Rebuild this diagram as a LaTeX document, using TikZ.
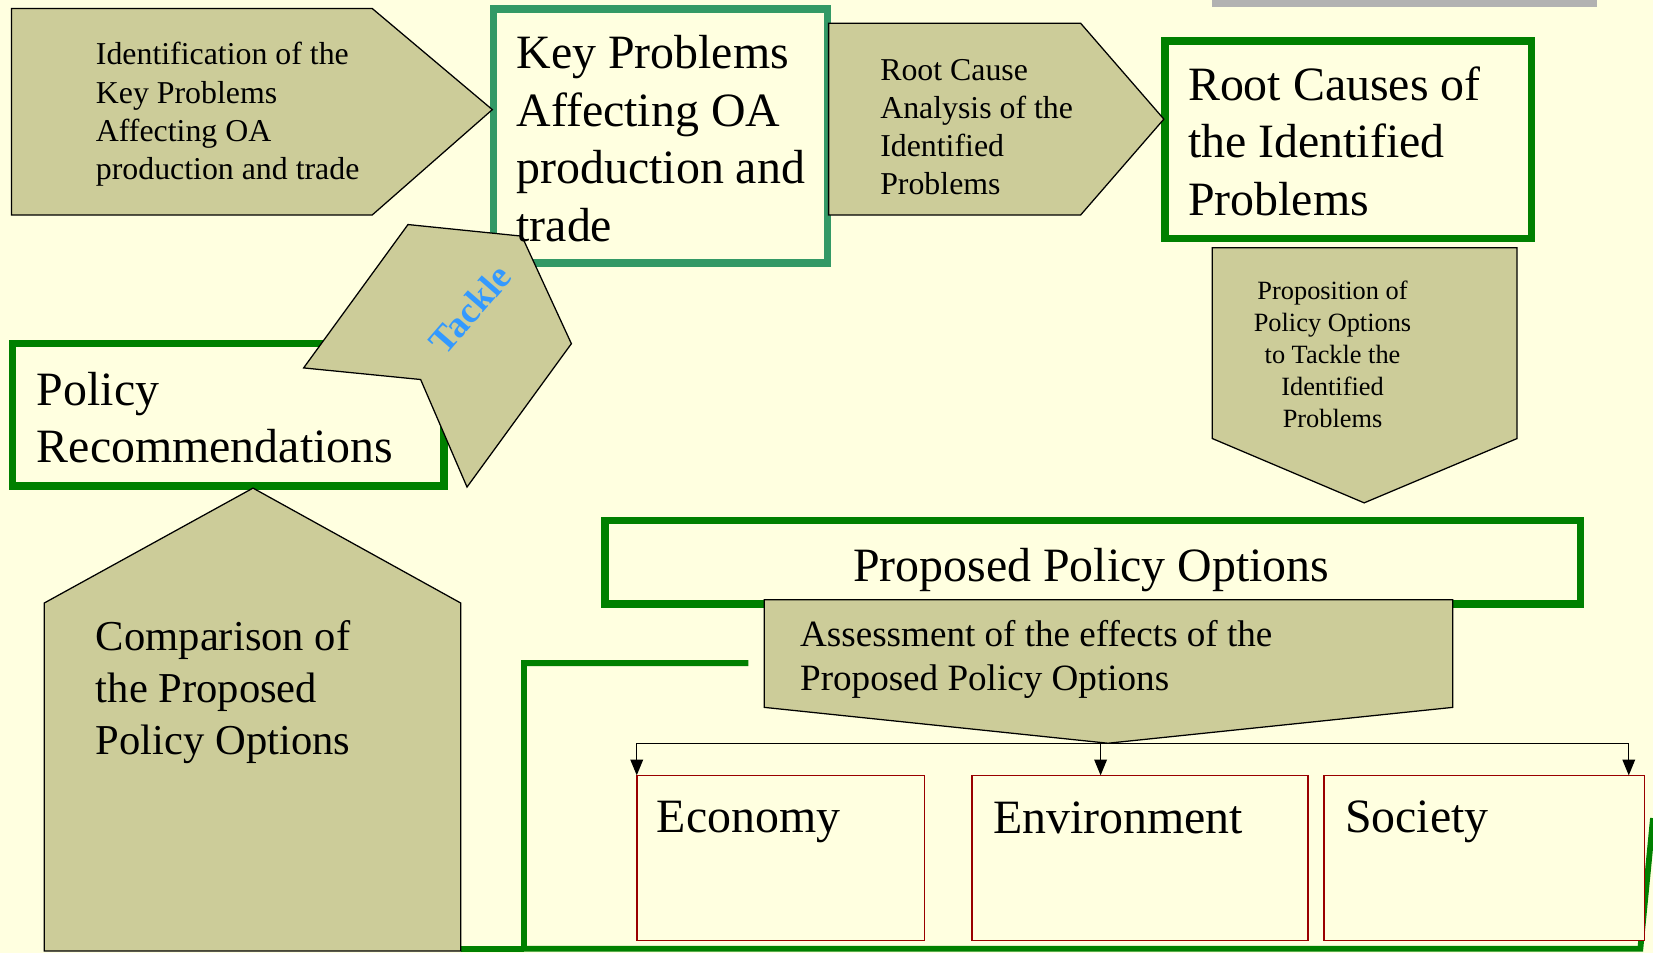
\documentclass[tikz,border=0pt]{standalone}
\usepackage{fontspec}
\setmainfont{Liberation Serif}
\usetikzlibrary{arrows.meta}
\definecolor{bgC}{RGB}{255,255,224}
\definecolor{khakiC}{RGB}{204,204,153}
\definecolor{greenC}{RGB}{0,128,0}
\definecolor{tealC}{RGB}{51,153,102}
\definecolor{redC}{RGB}{153,0,0}
\definecolor{grayC}{RGB}{178,178,178}
\definecolor{blueC}{RGB}{51,153,255}
\begin{document}
\begin{tikzpicture}[x=0.5pt,y=-0.5pt,
  khaki/.style={fill=khakiC, draw=black, line width=0.6pt, line join=miter},
  gbox/.style={draw=greenC, line width=3.5pt, fill=bgC},
  tbox/.style={draw=tealC, line width=3.5pt, fill=bgC},
  rbox/.style={draw=redC, line width=0.8pt, fill=bgC, inner sep=0pt, outer sep=0pt, anchor=north west},
  gline/.style={draw=greenC, line width=2.75pt},
  conn/.style={draw=black, line width=0.65pt, -{Triangle[length=7.5pt,width=6pt]}},
  txt/.style={inner sep=0pt, outer sep=0pt, align=left, anchor=west, text=black},
  fbig/.style={font=\fontsize{22.7}{27.25}\selectfont},
  fmid/.style={font=\fontsize{15.1}{18.15}\selectfont},
  fsmall/.style={font=\fontsize{12.5}{15.25}\selectfont},
  fcomp/.style={font=\fontsize{20.2}{24.75}\selectfont},
  fasm/.style={font=\fontsize{17.6}{21.25}\selectfont},
]
\fill[bgC] (0,0) rectangle (1568,904);
\useasboundingbox (0,0) rectangle (1568,904);
\fill[grayC] (1150,0) rectangle (1515,7);

% green feedback connector
\coordinate (gA) at (710,629);
\coordinate (gB) at (1568,776);
\coordinate (gC) at (437,900);
\draw[gline] (gA) -- (497,629) -- (497,900) -- (1556,900) -- (gB);
\draw[gline] (gC) -- (497,900);

% framed boxes
\draw[tbox] (468,8.5) rectangle (785,249.5);
\draw[gbox] (1105,39) rectangle (1453,226);
\draw[gbox] (12,326) rectangle (421,461);
\draw[gbox] (574,494) rectangle (1499,573);
\node[rbox, minimum width=136.5pt, minimum height=78.25pt] (econ) at (604,735.5) {};
\node[rbox, minimum width=159.5pt, minimum height=78.25pt] (env) at (922,735.5) {};
\node[rbox, minimum width=152pt, minimum height=78.25pt] (soc) at (1256,735.5) {};

% khaki arrow shapes
\draw[khaki] (11,8) -- (353,8) -- (467,104) -- (353,204) -- (11,204) -- cycle;
\draw[khaki] (786,22) -- (1025,22) -- (1104,113) -- (1025,204) -- (786,204) -- cycle;
\draw[khaki] (1150,235) -- (1439,235) -- (1439,416) -- (1294,477) -- (1150,416) -- cycle;
\draw[khaki] (387,213) -- (495,224) -- (542,326) -- (443,462) -- (399,360) -- (288,349) -- cycle;
\draw[khaki] (42,572) -- (240,463) -- (437,572) -- (437,902) -- (42,902) -- cycle;
\draw[khaki] (725,569) -- (1378,569) -- (1378,671) -- (1051,705) -- (725,671) -- cycle;
\coordinate (asmtip) at (1051,705);

% branch connectors
\draw[conn] (asmtip) -| (econ.north west);
\draw[conn] (asmtip) -| ([xshift=61pt]env.north west);
\draw[conn] (asmtip) -| ([xshift=-7.5pt]soc.north east);

% texts
\node[txt, fmid] (ident) at (91,108.5) {Identification of the\\Key Problems\\Affecting OA\\production and trade};
\node[txt, fbig] (keyp) at (490,131.5) {Key Problems\\Affecting OA\\production and\\trade};
\node[txt, fmid] (rca) at (835,120.5) {Root Cause\\Analysis of the\\Identified\\Problems};
\node[txt, fbig] (rootc) at (1127,134) {Root Causes of\\the Identified\\Problems};
\node[txt, fsmall, align=center, anchor=center] (prop) at (1264,336) {Proposition of\\Policy Options\\to Tackle the\\Identified\\Problems};
\node[txt, fbig] (polrec) at (35,396) {Policy\\Recommendations};
\node[inner sep=0pt, rotate=49, text=blueC, font=\bfseries\fontsize{17.5}{20}\selectfont] (tackle) at (446,293) {Tackle};
\node[txt, fcomp] (comp) at (91,656.5) {Comparison of\\the Proposed\\Policy Options};
\node[txt, fbig, anchor=center] (ppo) at (1035,540.5) {Proposed Policy Options};
\node[txt, fasm] (asm) at (759,625.5) {Assessment of the effects of the\\Proposed Policy Options};
\node[txt, fbig] (econT) at (623,780) {Economy};
\node[txt, fbig] (envT) at (942,776) {Environment};
\node[txt, fbig] (socT) at (1276,780) {Society};
\end{tikzpicture}
\end{document}
